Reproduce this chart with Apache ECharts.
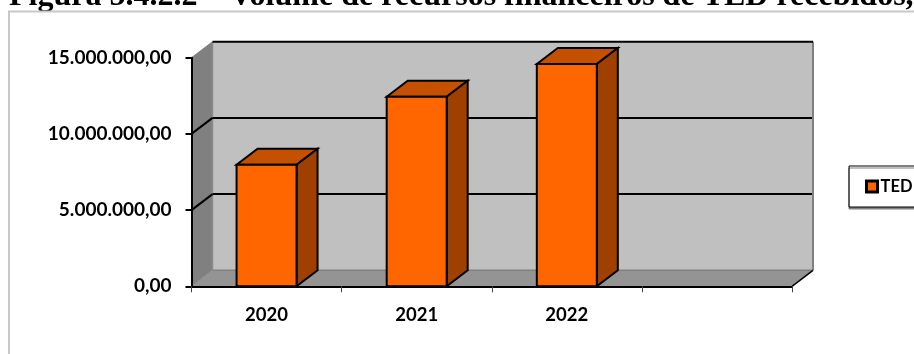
<!DOCTYPE html>
<html><head><meta charset="utf-8">
<style>html,body{margin:0;padding:0;background:#fff}#c{width:914px;height:354px}</style>
<script src="https://cdn.jsdelivr.net/npm/echarts@6/dist/echarts.min.js"></script>
</head><body><div id="c"></div>
<script>
const titleText = 'Figura 5.4.2.2 – Volume de recursos financeiros de TED recebidos,';
const categories = ['2020', '2021', '2022', ''];
const tedValues = [7980000, 12440000, 14590000, null];
const gridValues = [5000000, 10000000];
const yMax = 15000000, yStep = 5000000;
const seriesName = 'TED';

const DX = 21, DY = -16, BAR_W = 60;
const fmt = v => v.toFixed(2).replace('.', ',').replace(/\B(?=(\d{3})+(?!\d))/g, '.');
const poly = (pts, fill, stroke, lw) => ({type:'polygon', shape:{points:pts},
  style:{fill, stroke:stroke||'none', lineWidth:lw||0, lineJoin:'miter'}});
const line = (a, b, stroke, lw) => ({type:'line', shape:{x1:a[0],y1:a[1],x2:b[0],y2:b[1]}, style:{stroke, lineWidth:lw}});

function renderWalls(params, api) {
  const r = params.coordSys;
  const L = r.x, R = r.x + r.width, T = r.y, B = r.y + r.height;
  const ch = [
    poly([[L+DX,T+DY],[R+DX,T+DY],[R+DX,B+DY],[L+DX,B+DY]], '#c0c0c0'),
    poly([[L,T],[L+DX,T+DY],[L+DX,B+DY],[L,B]], '#808080'),
    poly([[L,B],[L+DX,B+DY],[R+DX,B+DY],[R,B]], '#949494'),
    line([L+DX,B+DY],[R+DX,B+DY],'#808080',1.5),
    line([L+DX,T+DY],[L+DX,B+DY],'#8c8c8c',1.5),
    line([R+DX,T+DY],[R+DX,B+DY],'#808080',2),
    line([R,B],[R+DX,B+DY],'#000',1.5),
    line([L,B],[L+DX,B+DY],'#8c8c8c',1),
    line([L,T],[L+DX,T+DY],'#808080',1),
    line([L+DX,T+DY],[R+DX,T+DY],'#000',2)
  ];
  gridValues.forEach(v => {
    const y = api.coord([0, v])[1];
    ch.push(line([L,y],[L+DX,y+DY],'#000',2));
    ch.push(line([L+DX,y+DY],[R+DX-1,y+DY],'#000',2));
  });
  return {type:'group', children:ch};
}
function renderBar(params, api) {
  const v = api.value(1);
  if (v == null || isNaN(v)) return null;
  const c = api.coord([api.value(0), v]);
  const b = api.coord([api.value(0), 0]);
  const x0 = c[0]-BAR_W/2, x1 = c[0]+BAR_W/2, y0 = c[1], y1 = b[1];
  return {type:'group', children:[
    poly([[x0,y0],[x0+DX,y0+DY],[x1+DX,y0+DY],[x1,y0]], '#c45000', '#000', 2),
    poly([[x1,y0],[x1+DX,y0+DY],[x1+DX,y1+DY],[x1,y1]], '#a04000', '#000', 2),
    {type:'rect', shape:{x:x0,y:y0,width:BAR_W,height:y1-y0}, style:{fill:'#ff6600',stroke:'#000',lineWidth:2}}
  ]};
}
const chart = echarts.init(document.getElementById('c'), null, {renderer:'canvas'});
chart.setOption({
  animation:false,
  title:{text:titleText, left:9, top:-19, padding:0, z:0,
    textStyle:{fontFamily:'"Liberation Serif"', fontWeight:'bold', fontSize:32, color:'#000'}},
  graphic:[{type:'rect', z:1, shape:{x:9,y:11.5,width:1000,height:500}, style:{fill:'#fff',stroke:'#c8c8c8',lineWidth:2}}],
  legend:{data:[seriesName], left:849, top:166, orient:'vertical', padding:[12,40,12,16], z:8,
    backgroundColor:'#fff', borderColor:'#000', borderWidth:1, shadowColor:'#808080', shadowOffsetY:2, shadowBlur:0,
    itemWidth:11, itemHeight:11, itemGap:0, icon:'rect',
    itemStyle:{color:'#ff6600', borderColor:'#000', borderWidth:3},
    textStyle:{fontFamily:'Lato', fontWeight:'bold', fontSize:16.5, color:'#000', padding:[0,0,0,-2]}},
  grid:{left:191.5, right:122, top:57.7, bottom:67.7, containLabel:false},
  xAxis:{type:'category', data:categories, z:5,
    axisLine:{lineStyle:{color:'#000',width:2}},
    axisTick:{show:true, length:6, alignWithLabel:false, lineStyle:{color:'#444',width:1}},
    axisLabel:{margin:19, interval:0, fontFamily:'Lato', fontWeight:'bold', fontSize:18.5, color:'#000'}},
  yAxis:{type:'value', min:0, max:yMax, interval:yStep, z:5,
    axisLine:{show:true, lineStyle:{color:'#000',width:2}},
    axisTick:{show:true, length:6, lineStyle:{color:'#000',width:2}},
    splitLine:{show:false},
    axisLabel:{margin:20, formatter:fmt, fontFamily:'Lato', fontWeight:'bold', fontSize:19, color:'#000'}},
  series:[
    {type:'custom', name:'walls', z:2, silent:true, clip:false, renderItem:renderWalls, data:[[0,0]],
     encode:{x:0,y:1}},
    {type:'custom', name:seriesName, z:3, clip:false, renderItem:renderBar,
     itemStyle:{color:'#ff6600'},
     data:categories.map((c,i)=>[i,tedValues[i]]), encode:{x:0,y:1}}
  ]
});
</script></body></html>
